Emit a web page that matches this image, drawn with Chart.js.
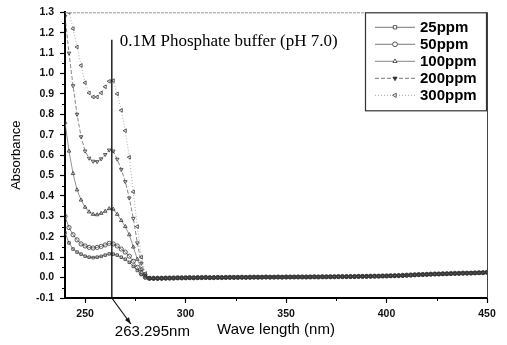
<!DOCTYPE html>
<html>
<head>
<meta charset="utf-8">
<script src="https://cdn.jsdelivr.net/npm/chart.js@4.4.1/dist/chart.umd.min.js"></script>
<style>
  html, body { margin: 0; padding: 0; background: #fff; }
  canvas { display: block; }
</style>
</head>
<body>
<canvas id="chart" width="507" height="345"></canvas>
<script>
// wavelength grid (nm)
const wavelengths = [
  240,242,244,246,248,250,252,254,256,258,260,262,264,266,268,270,272,274,276,278,280,282,
  284,286,288,290,292,294,296,298,300,302,304,306,308,310,312,314,316,318,320,322,
  324,326,328,330,332,334,336,338,340,342,344,346,348,350,352,354,356,358,360,362,
  364,366,368,370,372,374,376,378,380,382,384,386,388,390,392,394,396,398,400,402,
  404,406,408,410,412,414,416,418,420,422,424,426,428,430,432,434,436,438,440,442,
  444,446,448,450
];

const seriesNames = ['25ppm', '50ppm', '100ppm', '200ppm', '300ppm'];

const abs25 = [
  0.22,0.17,0.14,0.125,0.115,0.105,0.1,0.098,0.1,0.104,0.11,0.116,0.115,0.11,0.1,0.09,0.075,0.055,0.035,0.015,0.0,-0.004,
  -0.004,-0.004,-0.003,-0.003,-0.002,-0.002,-0.002,-0.001,-0.001,-0.001,-0.001,0,0,0,-0.001,0,0,0,0.001,0,
  0.001,0.001,0.001,0.001,0.001,0.002,0.002,0.002,0.002,0.002,0.002,0.002,0.002,0.002,0.002,0.002,0.003,0.002,0.003,0.003,
  0.003,0.003,0.003,0.003,0.004,0.004,0.004,0.004,0.004,0.005,0.005,0.005,0.005,0.006,0.006,0.006,0.007,0.007,0.008,0.008,
  0.009,0.009,0.01,0.011,0.012,0.013,0.014,0.015,0.016,0.016,0.017,0.018,0.018,0.019,0.019,0.02,0.02,0.021,0.021,0.022,
  0.022,0.023,0.024,0.025
];
const abs50 = [
  0.3,0.245,0.21,0.185,0.165,0.155,0.148,0.145,0.148,0.153,0.16,0.168,0.165,0.155,0.14,0.125,0.105,0.08,0.05,0.02,0.002,-0.004,
  -0.003,-0.003,-0.003,-0.002,-0.002,-0.002,-0.001,-0.001,-0.001,0,-0.001,0,0,0.001,0,0,0.001,0,0.001,0.001,
  0.001,0.001,0.002,0.001,0.002,0.002,0.002,0.002,0.003,0.002,0.002,0.003,0.002,0.003,0.003,0.003,0.003,0.003,0.003,0.003,
  0.004,0.003,0.004,0.004,0.004,0.004,0.005,0.005,0.005,0.005,0.005,0.006,0.006,0.006,0.007,0.007,0.007,0.008,0.008,0.009,
  0.009,0.01,0.011,0.012,0.013,0.014,0.015,0.015,0.016,0.017,0.018,0.018,0.019,0.019,0.02,0.021,0.021,0.022,0.022,0.022,
  0.023,0.024,0.024,0.026
];
const abs100 = [
  0.76,0.62,0.51,0.43,0.38,0.345,0.322,0.31,0.308,0.315,0.325,0.338,0.335,0.31,0.28,0.25,0.21,0.15,0.09,0.04,0.008,-0.003,
  -0.004,-0.004,-0.004,-0.003,-0.003,-0.002,-0.002,-0.002,-0.001,-0.001,-0.001,-0.001,0,0,0,0,0,0.001,0,0.001,
  0.001,0.001,0.001,0.001,0.002,0.001,0.002,0.002,0.002,0.002,0.002,0.002,0.002,0.003,0.002,0.002,0.003,0.003,0.003,0.003,
  0.003,0.003,0.004,0.003,0.004,0.004,0.004,0.005,0.005,0.005,0.005,0.005,0.006,0.006,0.006,0.007,0.007,0.007,0.008,0.008,
  0.009,0.01,0.01,0.011,0.012,0.013,0.014,0.015,0.015,0.016,0.017,0.017,0.018,0.019,0.019,0.02,0.021,0.021,0.022,0.022,
  0.023,0.023,0.024,0.025
];
const abs200 = [
  1.28,1.1,0.94,0.8,0.69,0.62,0.585,0.57,0.568,0.582,0.603,0.625,0.62,0.58,0.53,0.47,0.39,0.29,0.17,0.07,0.012,-0.003,
  -0.005,-0.004,-0.004,-0.003,-0.003,-0.003,-0.002,-0.002,-0.001,-0.001,-0.001,0,-0.001,0,0,0,0.001,0,0,0.001,
  0.001,0.001,0.001,0.002,0.001,0.002,0.002,0.002,0.002,0.002,0.003,0.002,0.002,0.002,0.003,0.003,0.003,0.003,0.003,0.004,
  0.003,0.004,0.004,0.004,0.004,0.004,0.005,0.004,0.005,0.005,0.005,0.006,0.006,0.006,0.006,0.007,0.007,0.008,0.008,0.009,
  0.009,0.01,0.01,0.011,0.012,0.013,0.014,0.015,0.016,0.017,0.017,0.018,0.019,0.019,0.02,0.02,0.021,0.022,0.022,0.023,
  0.023,0.024,0.025,0.026
];
const abs300 = [
  1.42,1.3,1.22,1.13,1.04,0.955,0.905,0.885,0.885,0.905,0.935,0.962,0.965,0.9,0.82,0.72,0.59,0.42,0.25,0.1,0.02,-0.002,
  -0.004,-0.005,-0.004,-0.004,-0.003,-0.002,-0.002,-0.002,-0.002,-0.001,-0.001,-0.001,0,0,-0.001,0,0,0,0.001,0.001,
  0,0.001,0.001,0.001,0.001,0.002,0.001,0.002,0.002,0.002,0.002,0.002,0.003,0.002,0.002,0.003,0.003,0.003,0.002,0.003,
  0.003,0.003,0.003,0.004,0.004,0.004,0.004,0.004,0.005,0.005,0.005,0.005,0.005,0.006,0.006,0.007,0.007,0.007,0.008,0.008,
  0.009,0.009,0.01,0.011,0.011,0.012,0.013,0.014,0.015,0.016,0.017,0.017,0.018,0.018,0.019,0.02,0.02,0.021,0.021,0.022,
  0.022,0.023,0.024,0.025
];

const xTicks = [250, 300, 350, 400, 450];
const yTicks = [-0.1,0.0,0.1,0.2,0.3,0.4,0.5,0.6,0.7,0.8,0.9,1.0,1.1,1.2,1.3];

const markWave = 263.295;
const markLabel = '263.295nm';
const bufferNote = '0.1M Phosphate buffer (pH 7.0)';

const sans = '"Liberation Sans", Arial, sans-serif';
const serif = '"Liberation Serif", "Times New Roman", serif';

// marker look per series
const styles = [
  { pointStyle: 'rect',     rotation: 0,   dash: [],     line: '#555', fill: false },
  { pointStyle: 'circle',   rotation: 0,   dash: [],     line: '#555', fill: false },
  { pointStyle: 'triangle', rotation: 0,   dash: [],     line: '#666', fill: false },
  { pointStyle: 'triangle', rotation: 180, dash: [4, 2], line: '#555', fill: true },
  { pointStyle: 'triangle', rotation: -90, dash: [1, 2], line: '#888', fill: false },
];

const allSeries = [abs25, abs50, abs100, abs200, abs300];

const datasets = allSeries.map((vals, i) => ({
  label: seriesNames[i],
  data: wavelengths.map((w, j) => ({ x: w, y: vals[j] })),
  borderColor: styles[i].line,
  borderWidth: 0.7,
  borderDash: styles[i].dash,
  pointStyle: styles[i].pointStyle,
  pointRotation: styles[i].rotation,
  pointRadius: styles[i].pointStyle === 'rect' ? 1.8 : 2.1,
  pointBorderWidth: 0.8,
  pointBorderColor: '#333',
  pointBackgroundColor: 'rgba(255,255,255,0)',
  tension: 0,
}));

function seg(ctx, x1, y1, x2, y2) {
  ctx.beginPath();
  ctx.moveTo(x1, y1);
  ctx.lineTo(x2, y2);
  ctx.stroke();
}

// frame, minor ticks, marker line, notes and the boxed legend
const extras = {
  id: 'extras',
  afterDraw(chart) {
    const { ctx, chartArea: a, scales: { x, y } } = chart;
    ctx.save();

    // top & right frame
    ctx.lineWidth = 1;
    ctx.strokeStyle = '#999';
    ctx.setLineDash([3, 1]);
    seg(ctx, a.left, a.top + 0.5, a.right, a.top + 0.5);
    ctx.setLineDash([]);
    ctx.strokeStyle = '#444';
    seg(ctx, a.right + 0.5, a.top, a.right + 0.5, a.bottom);

    // minor ticks
    ctx.strokeStyle = '#000';
    for (let i = 0; i < yTicks.length - 1; i++) {
      const py = Math.round(y.getPixelForValue((yTicks[i] + yTicks[i + 1]) / 2)) + 0.5;
      seg(ctx, a.left - 3, py, a.left, py);
    }
    for (let i = 0; i < xTicks.length - 1; i++) {
      const px = Math.round(x.getPixelForValue((xTicks[i] + xTicks[i + 1]) / 2)) + 0.5;
      seg(ctx, px, a.bottom, px, a.bottom + 3);
    }

    // marker line + arrow
    const mx = x.getPixelForValue(markWave);
    ctx.lineWidth = 1.4;
    ctx.strokeStyle = '#111';
    seg(ctx, mx, y.getPixelForValue(1.165), mx, a.bottom);
    const tipX = mx + 19, tipY = a.bottom + 26;
    ctx.lineWidth = 1.2;
    seg(ctx, mx, a.bottom, tipX, tipY);
    const ang = Math.atan2(tipY - a.bottom, tipX - mx);
    ctx.fillStyle = '#111';
    ctx.beginPath();
    ctx.moveTo(tipX, tipY);
    ctx.lineTo(tipX - 7 * Math.cos(ang - 0.35), tipY - 7 * Math.sin(ang - 0.35));
    ctx.lineTo(tipX - 7 * Math.cos(ang + 0.35), tipY - 7 * Math.sin(ang + 0.35));
    ctx.closePath();
    ctx.fill();

    // notes
    ctx.fillStyle = '#000';
    ctx.textBaseline = 'alphabetic';
    ctx.textAlign = 'left';
    ctx.font = '17px ' + serif;
    ctx.fillText(bufferNote, mx + 8, 46);
    ctx.font = '15px ' + sans;
    ctx.fillText(markLabel, mx + 3, 336);

    // legend box
    const bx = a.right - 122, by = a.top, bw = 121, bh = 98;
    ctx.fillStyle = '#fff';
    ctx.fillRect(bx, by, bw, bh);
    ctx.strokeStyle = '#333';
    ctx.lineWidth = 1.2;
    ctx.strokeRect(bx + 0.5, by + 0.5, bw, bh);

    ctx.font = 'bold 15px ' + sans;
    ctx.textBaseline = 'middle';
    chart.data.datasets.forEach((ds, i) => {
      const ry = by + 15 + i * 17;
      const st = styles[i];
      ctx.strokeStyle = st.line;
      ctx.lineWidth = 0.8;
      ctx.setLineDash(st.dash);
      seg(ctx, bx + 10, ry, bx + 50, ry);
      ctx.setLineDash([]);
      ctx.strokeStyle = '#333';
      ctx.fillStyle = st.fill ? '#333' : '#fff';
      ctx.lineWidth = 0.8;
      Chart.helpers.drawPoint(ctx, {
        pointStyle: st.pointStyle, radius: 2.4, rotation: st.rotation, borderWidth: 0.8
      }, bx + 30, ry);
      ctx.fillStyle = '#000';
      ctx.fillText(ds.label, bx + 55, ry + 1);
    });

    ctx.restore();
  }
};

new Chart(document.getElementById('chart').getContext('2d'), {
  type: 'line',
  data: { datasets },
  options: {
    responsive: false,
    maintainAspectRatio: false,
    animation: false,
    layout: { padding: { top: 10, right: 20, left: 0, bottom: 0 } },
    plugins: {
      legend: { display: false },
      tooltip: { enabled: false },
    },
    scales: {
      x: {
        type: 'linear',
        min: 240,
        max: 450,
        afterBuildTicks: (s) => { s.ticks = xTicks.map(v => ({ value: v })); },
        afterFit: (s) => { s.height = 47; },
        ticks: {
          font: { family: sans, size: 10.5, weight: 'bold' },
          color: '#111',
          padding: 5,
          maxRotation: 0,
        },
        grid: { drawOnChartArea: false, tickLength: 5, tickWidth: 1.2, tickColor: '#000' },
        border: { color: '#000', width: 2 },
        title: {
          display: true,
          text: 'Wave length (nm)',
          font: { family: sans, size: 15 },
          color: '#000',
          padding: { top: 0, bottom: 6 },
        },
      },
      y: {
        type: 'linear',
        min: -0.1,
        max: 1.3,
        afterBuildTicks: (s) => { s.ticks = yTicks.map(v => ({ value: v })); },
        afterFit: (s) => { s.width = 65; },
        ticks: {
          font: { family: sans, size: 10.5, weight: 'bold' },
          color: '#111',
          padding: 6,
          callback: (v) => Number(v).toFixed(1),
        },
        grid: { drawOnChartArea: false, tickLength: 5, tickWidth: 1.2, tickColor: '#000' },
        border: { color: '#000', width: 2 },
        title: {
          display: true,
          text: 'Absorbance',
          font: { family: sans, size: 13 },
          color: '#000',
          padding: { top: 9, bottom: 0 },
        },
      },
    },
  },
  plugins: [extras],
});
</script>
</body>
</html>
